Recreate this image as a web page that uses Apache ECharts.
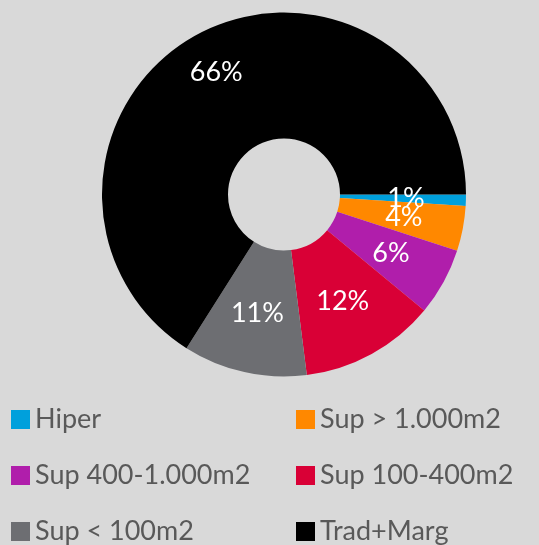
<!DOCTYPE html>
<html>
<head>
<meta charset="utf-8">
<script src="https://cdn.jsdelivr.net/npm/echarts@6/dist/echarts.min.js"></script>
<style>
  html, body { margin: 0; padding: 0; background: #d9d9d9; }
  #chart { width: 539px; height: 545px; }
</style>
</head>
<body>
<div id="chart"></div>
<script>
const categories = ['Hiper', 'Sup > 1.000m2', 'Sup 400-1.000m2', 'Sup 100-400m2', 'Sup < 100m2', 'Trad+Marg'];
const shares = [1, 4, 6, 12, 11, 66];
const colors = ['#00a0dc', '#ff8800', '#b01eab', '#d90036', '#6d6e72', '#000000'];
const legendLeft = ['Hiper', 'Sup 400-1.000m2', 'Sup < 100m2'];
const legendRight = ['Sup > 1.000m2', 'Sup 100-400m2', 'Trad+Marg'];

const chart = echarts.init(document.getElementById('chart'));

const legendBase = {
  orient: 'vertical',
  top: 406,
  height: 139,
  padding: 0,
  itemWidth: 19,
  itemHeight: 19,
  itemGap: 29,
  itemTextGap: 9,
  icon: 'rect',
  selectedMode: false,
  textStyle: { color: '#595959', fontFamily: 'Lato', fontSize: 27, lineHeight: 26 }
};

chart.setOption({
  backgroundColor: '#d9d9d9',
  color: colors,
  legend: [
    { ...legendBase, left: 11, data: legendLeft },
    { ...legendBase, left: 296, data: legendRight }
  ],
  series: [
    {
      type: 'pie',
      center: [284, 194.5],
      radius: [56, 182],
      startAngle: 0,
      clockwise: true,
      avoidLabelOverlap: false,
      silent: true,
      labelLayout: { hideOverlap: false },
      label: {
        show: true,
        position: 'inside',
        formatter: '{c}%',
        color: '#ffffff',
        fontFamily: 'Lato',
        fontSize: 27
      },
      labelLine: { show: false },
      data: categories.map((name, i) => ({
        name,
        value: shares[i],
        label: i === 5 ? { offset: [-9, -15] } : undefined
      }))
    }
  ]
});
</script>
</body>
</html>
